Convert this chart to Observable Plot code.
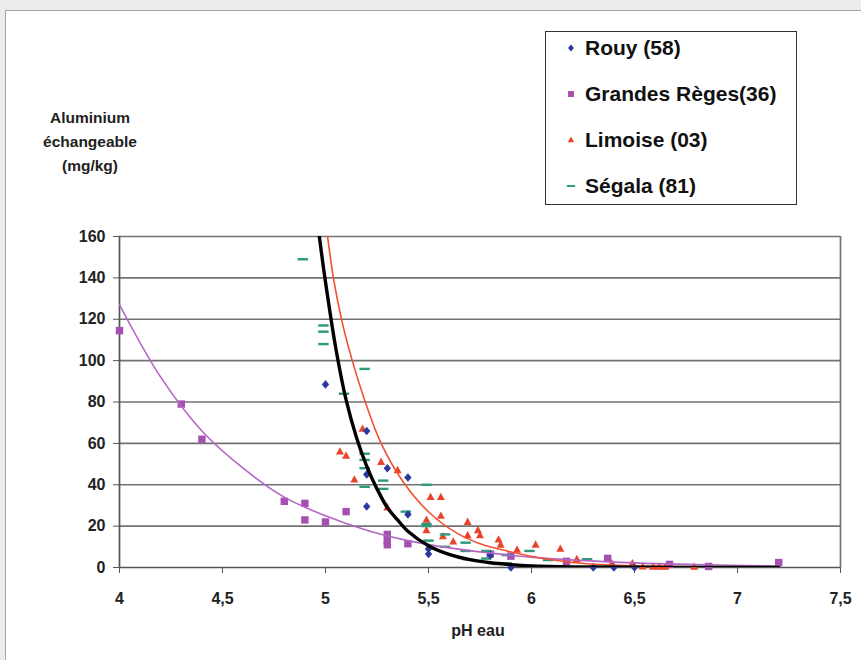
<!DOCTYPE html>
<html>
<head>
<meta charset="utf-8">
<script src="https://cdn.jsdelivr.net/npm/d3@7"></script>
<script src="https://cdn.jsdelivr.net/npm/@observablehq/plot@0.6"></script>
<style>
  body { margin: 0; background: #ececec; font-family: "Liberation Sans", Arial, sans-serif; }
  #wrap { position: relative; width: 861px; height: 660px; overflow: hidden; background: #ececec; }
  #panel { position: absolute; left: 5px; top: 10px; width: 900px; height: 700px; background: #fff; border: 1px solid #a5a5a5; }
  #chart { position: absolute; left: 0; top: 0; }
  #ytitle { position: absolute; left: 30px; top: 106px; width: 120px; text-align: center; font-weight: bold; font-size: 15.5px; line-height: 24px; color: #222; }
  #xtitle { position: absolute; left: 378px; top: 622px; width: 200px; text-align: center; font-weight: bold; font-size: 16px; color: #222; }
  #legend { position: absolute; left: 545px; top: 31px; width: 250px; height: 172px; border: 1.5px solid #333; background: #fff; }
  .item { position: absolute; left: 0; height: 30px; display: flex; align-items: center; font-weight: bold; font-size: 21px; color: #111; white-space: nowrap; }
  .item svg { margin-left: 19px; margin-right: 8px; }
</style>
</head>
<body>
<div id="wrap">
  <div id="panel"></div>
  <div id="chart"></div>
  <div id="ytitle">Aluminium<br>échangeable<br>(mg/kg)</div>
  <div id="xtitle">pH eau</div>
  <div id="legend"></div>
</div>
<script>
// ---- data (pH eau, aluminium échangeable mg/kg) ----
const seriesNames = ["Rouy (58)", "Grandes Règes(36)", "Limoise (03)", "Ségala (81)"];
const seriesColors = ["#2b3a9e", "#a54fb0", "#e9432b", "#2a9a78"];

const rouy = [
  [5.0, 88.5], [5.2, 66], [5.2, 45], [5.2, 29.5], [5.3, 48], [5.4, 43.5], [5.4, 25.6],
  [5.5, 9], [5.5, 6.5], [5.8, 6], [5.9, 0], [6.3, 0], [6.4, 0], [6.5, 0]
];
const grandesReges = [
  [4.0, 114.5], [4.3, 79], [4.4, 62], [4.8, 32], [4.9, 31], [4.9, 23], [5.0, 22], [5.1, 27],
  [5.3, 16], [5.3, 13], [5.3, 11], [5.4, 11.5], [5.8, 6.5], [5.9, 5.5], [6.17, 3],
  [6.37, 4.4], [6.67, 1.5], [6.86, 0.5], [7.2, 2.4]
];
const limoise = [
  [5.07, 56], [5.1, 54], [5.14, 42.5], [5.18, 67], [5.27, 51], [5.35, 47], [5.3, 29],
  [5.51, 34], [5.56, 34], [5.56, 25], [5.49, 23], [5.49, 18], [5.57, 15], [5.62, 12.5],
  [5.69, 22], [5.69, 15.5], [5.74, 18], [5.75, 15.5], [5.84, 13.5], [5.85, 11], [5.93, 8.5],
  [6.02, 11], [6.14, 9], [6.22, 4], [6.39, 2], [6.49, 2], [6.54, 0.4], [6.59, 0.3],
  [6.62, 0.3], [6.65, 0.3], [6.79, 0.3]
];
const segala = [
  [4.89, 149], [4.99, 117], [4.99, 114], [4.99, 108], [5.09, 84], [5.19, 96], [5.19, 55],
  [5.19, 52], [5.19, 48], [5.19, 39], [5.28, 42], [5.28, 38], [5.39, 27], [5.49, 40],
  [5.49, 21], [5.49, 20], [5.5, 13], [5.58, 16], [5.58, 10], [5.68, 12], [5.68, 8], [5.69, 4],
  [5.78, 8], [5.78, 4.3], [5.88, 6], [5.88, 2], [5.99, 8], [6.08, 3.6], [6.27, 4]
];
// trend curves
const curveBlack = [
  [4.97, 160], [5.0, 138], [5.05, 106], [5.1, 81], [5.15, 63], [5.2, 49], [5.25, 38], [5.3, 29],
  [5.35, 23], [5.4, 17.5], [5.5, 10.5], [5.6, 6.3], [5.7, 3.8], [5.8, 2.3], [5.9, 1.4], [6.0, 0.8],
  [6.2, 0.3], [6.5, 0.1], [7.0, 0], [7.2, 0]
];
const curveRed = [
  [5.01, 160], [5.04, 139], [5.08, 119], [5.13, 100], [5.19, 81], [5.27, 60], [5.38, 41],
  [5.51, 26], [5.64, 16.5], [5.75, 11.5], [5.88, 8], [6.08, 4], [6.27, 1.8], [6.5, 0.8], [6.9, 0.3]
];
const curvePurple = [
  [4.0, 127], [4.2, 92], [4.4, 66], [4.6, 48], [4.8, 34], [5.0, 25], [5.2, 18], [5.4, 13],
  [5.6, 9.5], [5.8, 7], [6.0, 5], [6.4, 2.6], [6.8, 1.4], [7.2, 0.7]
];
const xTicks = [4, 4.5, 5, 5.5, 6, 6.5, 7, 7.5];
const yTicks = [0, 20, 40, 60, 80, 100, 120, 140, 160];

// ---- marker shapes ----
const diamond = { draw(c) { c.moveTo(0, -4.3); c.lineTo(3.7, 0); c.lineTo(0, 4.3); c.lineTo(-3.7, 0); c.closePath(); } };
const square = { draw(c) { c.rect(-3.7, -3.7, 7.4, 7.4); } };
const triangle = { draw(c) { c.moveTo(0, -4.4); c.lineTo(4, 2.9); c.lineTo(-4, 2.9); c.closePath(); } };
const dash = { draw(c) { c.rect(-5.2, -1.2, 10.4, 2.4); } };
const shapes = [diamond, square, triangle, dash];

const fmt = d => String(d).replace(".", ",");
const X = d => d[0], Y = d => d[1];

const chart = Plot.plot({
  width: 861, height: 660,
  marginLeft: 119, marginRight: 21, marginTop: 236, marginBottom: 93,
  style: { background: "transparent", fontFamily: "Liberation Sans, Arial, sans-serif", fontSize: "16px", fontWeight: "bold", color: "#222" },
  x: { domain: [4, 7.5], label: null },
  y: { domain: [0, 160], label: null },
  marks: [
    Plot.gridY(yTicks.filter(d => d > 0), { stroke: "#727272", strokeOpacity: 1, strokeWidth: 1.7 }),
    Plot.ruleX([7.5], { stroke: "#727272", strokeWidth: 1.7 }),
    Plot.ruleY([0], { stroke: "#555", strokeWidth: 1.7 }),
    Plot.ruleX([4], { stroke: "#555", strokeWidth: 1.7 }),
    Plot.axisX({ ticks: xTicks, tickFormat: fmt, tickSize: 6, tickPadding: 19, stroke: "#555", label: null }),
    Plot.axisY({ ticks: yTicks, tickSize: 6, tickPadding: 8, stroke: "#555", label: null }),
    Plot.dot(grandesReges, { x: X, y: Y, symbol: square, fill: seriesColors[1], stroke: "none" }),
    Plot.dot(limoise, { x: X, y: Y, symbol: triangle, fill: seriesColors[2], stroke: "none" }),
    Plot.dot(segala, { x: X, y: Y, symbol: dash, fill: seriesColors[3], stroke: "none" }),
    Plot.dot(rouy, { x: X, y: Y, symbol: diamond, fill: seriesColors[0], stroke: "none" }),
    Plot.line(curvePurple, { x: X, y: Y, stroke: "#b466c4", strokeWidth: 1.6, curve: "catmull-rom", clip: true }),
    Plot.line(curveRed, { x: X, y: Y, stroke: "#f0512f", strokeWidth: 1.6, curve: "catmull-rom", clip: true }),
    Plot.line(curveBlack, { x: X, y: Y, stroke: "#000", strokeWidth: 3.4, curve: "catmull-rom", clip: true })
  ]
});
document.getElementById("chart").appendChild(chart);

// ---- legend ----
const legend = document.getElementById("legend");
const rowCenters = [16, 62, 108, 154];
seriesNames.forEach((name, i) => {
  const item = document.createElement("div");
  item.className = "item";
  item.style.top = (rowCenters[i] - 15) + "px";
  const svg = d3.create("svg").attr("width", 12).attr("height", 12).attr("viewBox", "-6 -6 12 12");
  svg.append("path").attr("d", d3.symbol(shapes[i])()).attr("fill", seriesColors[i])
    .attr("transform", "scale(0.8)");
  item.appendChild(svg.node());
  const span = document.createElement("span");
  span.textContent = name;
  item.appendChild(span);
  legend.appendChild(item);
});
</script>
</body>
</html>
